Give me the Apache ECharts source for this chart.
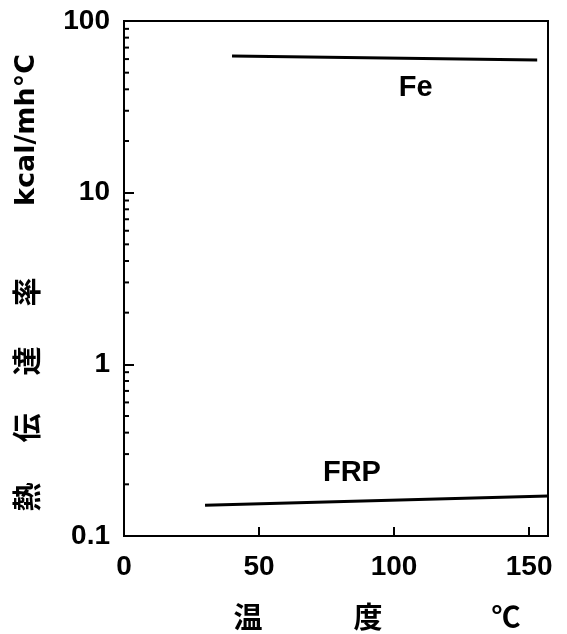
<!DOCTYPE html>
<html><head><meta charset="utf-8">
<script src="https://cdn.jsdelivr.net/npm/echarts@6/dist/echarts.min.js"></script>
<style>html,body{margin:0;padding:0;background:#fff}#c{width:567px;height:634px}</style>
</head><body><div id="c"></div>
<script>
// Data
const feTemp = [40, 153];
const feK = [62.5, 59.3];
const frpTemp = [30, 157];
const frpK = [0.151, 0.171];
const xTicks = [0, 50, 100, 150];
const yDecades = [0.1, 1, 10];
const minorMultipliers = [2, 3, 4, 5, 6, 7, 8, 9];
const curveLabels = [{name: 'Fe', x: 108, y: 40.7}, {name: 'FRP', x: 84.4, y: 0.232}];

const minorTicks = [];
yDecades.forEach(d => minorMultipliers.forEach(m => minorTicks.push([0, +(d * m).toPrecision(3)])));

const FONT = 'Liberation Sans';
const chart = echarts.init(document.getElementById('c'));
const ink = '#000';
const cjk = 'bold 29px "Noto Sans CJK JP"';
chart.setOption({
  animation: false,
  backgroundColor: '#fff',
  grid: {left: 124, right: 19, top: 21, bottom: 98, show: true, borderColor: ink, borderWidth: 2},
  xAxis: {
    type: 'value', min: 0, max: 157, interval: 50,
    axisLine: {lineStyle: {color: ink, width: 2}},
    axisTick: {inside: true, length: 9, lineStyle: {color: ink, width: 2}},
    axisLabel: {color: ink, fontFamily: FONT, fontSize: 28, fontWeight: 'bold', margin: 17, showMaxLabel: false},
    splitLine: {show: false}
  },
  yAxis: {
    type: 'log', logBase: 10, min: 0.1, max: 100,
    axisLine: {lineStyle: {color: ink, width: 2}},
    axisTick: {inside: true, length: 10, lineStyle: {color: ink, width: 2}},
    axisLabel: {color: ink, fontFamily: FONT, fontSize: 28, fontWeight: 'bold', margin: 14,
      formatter: v => String(+v.toPrecision(3))},
    splitLine: {show: false}
  },
  series: [
    {type: 'line', data: feTemp.map((t, i) => [t, feK[i]]), symbol: 'none',
      lineStyle: {color: ink, width: 3}},
    {type: 'line', data: frpTemp.map((t, i) => [t, frpK[i]]), symbol: 'none',
      lineStyle: {color: ink, width: 3}},
    {type: 'custom', data: minorTicks, silent: true, clip: false,
      renderItem: (params, api) => {
        const p = api.coord([api.value(0), api.value(1)]);
        return {type: 'line', shape: {x1: p[0], y1: p[1], x2: p[0] + 5, y2: p[1]},
          style: {stroke: ink, lineWidth: 2}};
      }},
    {type: 'scatter', data: curveLabels.map(l => ({name: l.name, value: [l.x, l.y]})),
      symbolSize: 0, silent: true, itemStyle: {opacity: 1},
      label: {show: true, position: 'inside', formatter: '{b}', color: ink,
        fontFamily: FONT, fontSize: 29, fontWeight: 'bold'}}
  ],
  graphic: [
    {type: 'text', x: 248, y: 617, style: {text: '温', font: cjk, fill: ink, textAlign: 'center', textVerticalAlign: 'middle'}},
    {type: 'text', x: 368, y: 617, style: {text: '度', font: cjk, fill: ink, textAlign: 'center', textVerticalAlign: 'middle'}},
    {type: 'text', x: 506, y: 617, style: {text: '℃', font: cjk, fill: ink, textAlign: 'center', textVerticalAlign: 'middle'}},
    {type: 'text', x: 27, y: 497, rotation: Math.PI / 2, style: {text: '熱', font: cjk, fill: ink, textAlign: 'center', textVerticalAlign: 'middle'}},
    {type: 'text', x: 27, y: 428, rotation: Math.PI / 2, style: {text: '伝', font: cjk, fill: ink, textAlign: 'center', textVerticalAlign: 'middle'}},
    {type: 'text', x: 27, y: 361, rotation: Math.PI / 2, style: {text: '達', font: cjk, fill: ink, textAlign: 'center', textVerticalAlign: 'middle'}},
    {type: 'text', x: 27, y: 292, rotation: Math.PI / 2, style: {text: '率', font: cjk, fill: ink, textAlign: 'center', textVerticalAlign: 'middle'}},
    {type: 'text', x: 27, y: 130, rotation: Math.PI / 2, style: {text: 'kcal/mh°C', font: 'bold 27px "DejaVu Sans"', fill: ink, textAlign: 'center', textVerticalAlign: 'middle'}}
  ]
});
</script></body></html>
